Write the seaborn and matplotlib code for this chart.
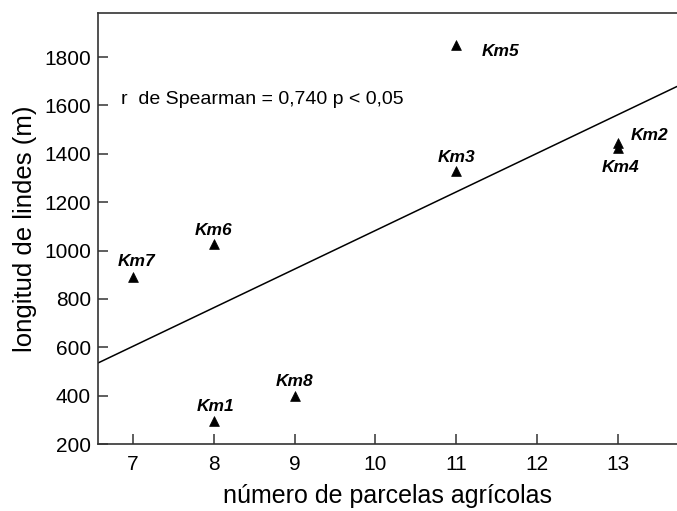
import matplotlib
matplotlib.use('Agg')
import matplotlib.pyplot as plt
import pandas as pd
import seaborn as sns

#=====Data=====
sitios = ['Km1', 'Km2', 'Km3', 'Km4', 'Km5', 'Km6', 'Km7', 'Km8']
parcelas = [8, 13, 11, 13, 11, 8, 7, 9]
lindes = [296, 1445, 1329, 1424, 1850, 1027, 891, 399]

# label offsets (points) and horizontal alignment
offsets = {'Km1': (1, 10, 'center'), 'Km2': (9, 5, 'left'), 'Km3': (0, 10, 'center'),
           'Km4': (2, -14, 'center'), 'Km5': (18, -5, 'left'), 'Km6': (0, 10, 'center'),
           'Km7': (3, 11, 'center'), 'Km8': (0, 10, 'center')}

df = pd.DataFrame({'sitio': sitios, 'parcelas': parcelas, 'lindes': lindes})

sns.set_style('ticks')
plt.rcParams['font.family'] = ['Liberation Sans', 'DejaVu Sans']
plt.rcParams['text.color'] = 'black'
plt.rcParams['axes.labelcolor'] = 'black'

fig = plt.figure(figsize=(6.77, 5.11), dpi=100)
ax = fig.add_axes([98 / 677, 1 - 444 / 511, 1 - 98 / 677, (444 - 13) / 511])
ax.set_xlim(6.57, 13.73)
ax.set_ylim(200, 1982)

# linea de regresion
sns.regplot(data=df, x='parcelas', y='lindes', ax=ax, scatter=False, ci=None,
            truncate=False, line_kws={'color': 'black', 'lw': 1.1})
sns.scatterplot(data=df, x='parcelas', y='lindes', ax=ax, marker='^', s=50,
                color='black', edgecolor='black', linewidth=0.5, zorder=3)

for s, x, y in zip(sitios, parcelas, lindes):
    dx, dy, ha = offsets[s]
    ax.annotate(s, (x, y), xytext=(dx, dy), textcoords='offset points', ha=ha,
                va='center', fontsize=12.5, fontweight='bold', fontstyle='italic')

ax.text(0.04, 0.8, 'r  de Spearman = 0,740 p < 0,05', transform=ax.transAxes,
        fontsize=14, va='center', ha='left')

ax.set_xticks(range(7, 14))
ax.set_yticks(range(200, 1801, 200))
ax.tick_params(direction='in', length=7, width=1.1, labelsize=15,
               color='#333333', labelcolor='black')
ax.tick_params(axis='y', pad=5)
ax.tick_params(axis='x', pad=8)
ax.set_xlabel('número de parcelas agrícolas', fontsize=18, labelpad=7)
ax.set_ylabel('longitud de lindes (m)', fontsize=18.5, labelpad=5)
ax.spines['right'].set_visible(False)
for sp in ['left', 'top', 'bottom']:
    ax.spines[sp].set_linewidth(1.2)
    ax.spines[sp].set_color('#333333')

plt.savefig('out.png', dpi=100)
